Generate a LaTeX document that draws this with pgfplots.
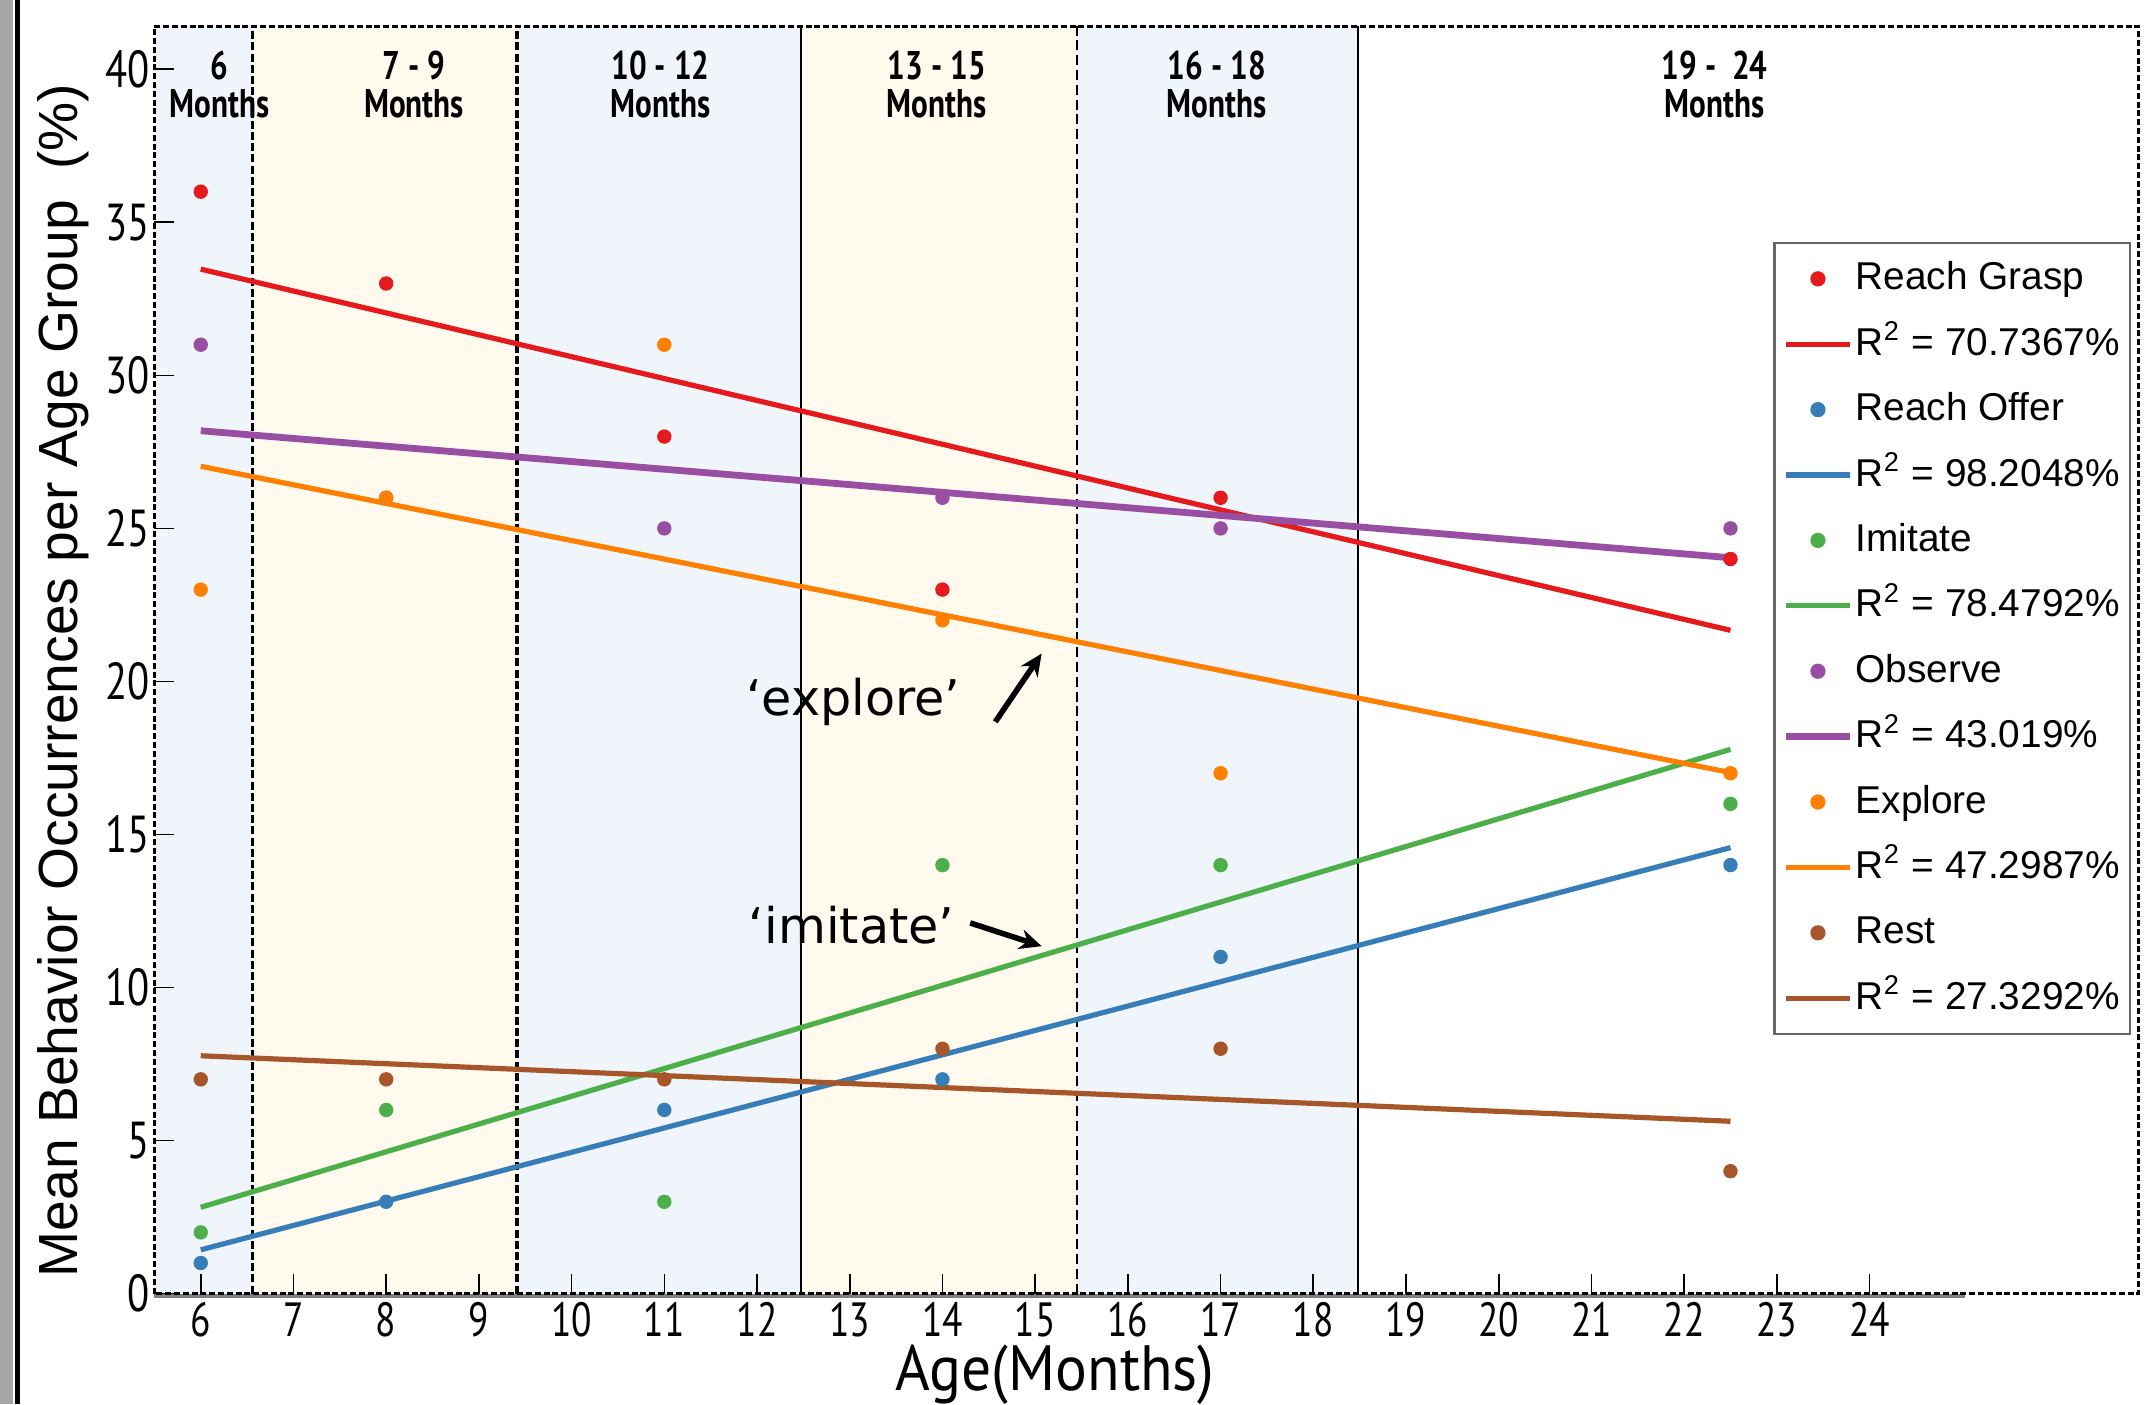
\documentclass[border=0pt]{standalone}
\usepackage{fontspec}
\setmainfont{Liberation Sans}
\newfontfamily\condfont{PT Sans}[FakeStretch=0.78]
\newfontfamily\labfont{PT Sans}[FakeStretch=0.93]
\newfontfamily\dejavu{DejaVu Sans}
\usepackage{pgfplots}
\pgfplotsset{compat=1.18}
\usetikzlibrary{arrows.meta}
\definecolor{cRG}{HTML}{E41A1C}
\definecolor{cRO}{HTML}{377EB8}
\definecolor{cIM}{HTML}{4DAF4A}
\definecolor{cOB}{HTML}{984EA3}
\definecolor{cEX}{HTML}{FF7F00}
\definecolor{cRE}{HTML}{A65628}
\definecolor{bgblue}{HTML}{EFF5FA}
\definecolor{bgyel}{HTML}{FFF9EE}
\begin{document}
\begin{tikzpicture}
\path[use as bounding box] (-38.6pt,-27.7pt) rectangle (497.4pt,323.4pt);
\fill[black!35] (-38.6pt,-27.7pt) rectangle (-35.3pt,323.4pt);
\fill[black] (-34.8pt,-27.7pt) rectangle (-33.6pt,323.4pt);
\begin{axis}[
 scale only axis, width=496pt, height=316.8pt,
 xmin=5.5, xmax=26.9, ymin=0, ymax=41.4,
 axis on top,
 axis line style={draw=none},
 xtick={6,...,24}, ytick={0,5,...,40},
 xtick pos=left, ytick pos=left,
 tick align=inside,
 major tick length=5pt,
 tick style={black, line width=0.4pt},
 /pgf/number format/assume math mode=true,
 xticklabel style={font=\condfont\fontsize{12}{12}\selectfont, inner sep=2pt},
 yticklabel style={font=\condfont\fontsize{13}{13}\selectfont, inner sep=1pt},
 clip=false,
 legend image code/.code={\draw[mark repeat=2,mark phase=2,#1] plot coordinates {(0pt,0pt)(8pt,0pt)(16pt,0pt)};},
 legend style={at={(axis description cs:0.816,0.830)}, anchor=north west,
   draw=black!60, line width=0.6pt, fill=white,
   font=\fontsize{9.7}{12}\selectfont, inner xsep=2pt, inner ysep=3.6pt, row sep=5.65pt,
   nodes={inner sep=0.6pt, text height=7.5pt, text depth=2pt}},
 legend cell align=left,
]
% background bands
\fill[bgblue] (axis cs:5.5,0) rectangle (axis cs:6.56,41.4);
\fill[bgyel] (axis cs:6.56,0) rectangle (axis cs:9.41,41.4);
\fill[bgblue] (axis cs:9.41,0) rectangle (axis cs:12.47,41.4);
\fill[bgyel] (axis cs:12.47,0) rectangle (axis cs:15.45,41.4);
\fill[bgblue] (axis cs:15.45,0) rectangle (axis cs:18.48,41.4);
\draw[black, line width=0.9pt, dash pattern=on 2pt off 0.8pt] (axis cs:6.56,0) -- (axis cs:6.56,41.4);
\draw[black, line width=0.9pt, dash pattern=on 2pt off 0.8pt] (axis cs:9.41,0) -- (axis cs:9.41,41.4);
\draw[black, line width=0.5pt] (axis cs:12.47,0) -- (axis cs:12.47,41.4);
\draw[black, line width=0.5pt, dash pattern=on 2.5pt off 1.2pt] (axis cs:15.45,0) -- (axis cs:15.45,41.4);
\draw[black, line width=0.5pt] (axis cs:18.48,0) -- (axis cs:18.48,41.4);
\draw[black!50, line width=1pt] ([yshift=-0.6pt]axis cs:5.5,0) -- ([yshift=-0.6pt]axis cs:25.03,0);
\draw[black, line width=0.6pt, dash pattern=on 1.5pt off 0.7pt] (axis cs:5.5,0) rectangle (axis cs:26.9,41.4);
% band labels
\begin{scope}[every node/.style={font=\condfont\bfseries\fontsize{10}{9.6}\selectfont, align=center, anchor=center}]
\node at (axis cs:6.2,39.5) {6\\Months};
\node at (axis cs:8.3,39.5) {7 - 9\\Months};
\node at (axis cs:10.96,39.5) {10 - 12\\Months};
\node at (axis cs:13.94,39.5) {13 - 15\\Months};
\node at (axis cs:16.96,39.5) {16 - 18\\Months};
\node at (axis cs:22.33,39.5) {19 -\ \ 24\\Months};
\end{scope}
% data
\addplot[only marks, mark=*, mark size=1.6pt, color=cRG] coordinates {(6,36)(8,33)(11,28)(14,23)(17,26)(22.5,24)};
\addlegendentry{Reach Grasp}
\addplot[cRG, line width=1.3pt] coordinates {(6,33.47)(22.5,21.67)};
\addlegendentry{R\textsuperscript{2} = 70.7367\%}
\addplot[only marks, mark=*, mark size=1.6pt, color=cRO] coordinates {(6,1)(8,3)(11,6)(14,7)(17,11)(22.5,14)};
\addlegendentry{Reach Offer}
\addplot[cRO, line width=1.3pt] coordinates {(6,1.43)(22.5,14.57)};
\addlegendentry{R\textsuperscript{2} = 98.2048\%}
\addplot[only marks, mark=*, mark size=1.6pt, color=cIM] coordinates {(6,2)(8,6)(11,3)(14,14)(17,14)(22.5,16)};
\addlegendentry{Imitate}
\addplot[cIM, line width=1.3pt] coordinates {(6,2.82)(22.5,17.78)};
\addlegendentry{R\textsuperscript{2} = 78.4792\%}
\addplot[only marks, mark=*, mark size=1.6pt, color=cOB] coordinates {(6,31)(8,26)(11,25)(14,26)(17,25)(22.5,25)};
\addlegendentry{Observe}
\addplot[cOB, line width=1.7pt] coordinates {(6,28.19)(22.5,24.04)};
\addlegendentry{R\textsuperscript{2} = 43.019\%}
\addplot[only marks, mark=*, mark size=1.6pt, color=cEX] coordinates {(6,23)(8,26)(11,31)(14,22)(17,17)(22.5,17)};
\addlegendentry{Explore}
\addplot[cEX, line width=1.3pt] coordinates {(6,27.03)(22.5,17.02)};
\addlegendentry{R\textsuperscript{2} = 47.2987\%}
\addplot[only marks, mark=*, mark size=1.6pt, color=cRE] coordinates {(6,7)(8,7)(11,7)(14,8)(17,8)(22.5,4)};
\addlegendentry{Rest}
\addplot[cRE, line width=1.3pt] coordinates {(6,7.77)(22.5,5.63)};
\addlegendentry{R\textsuperscript{2} = 27.3292\%}
% annotations
\node[font=\dejavu\fontsize{12.3}{12}\selectfont, anchor=base] at (axis cs:13.04,18.90) {‘explore’};
\node[font=\dejavu\fontsize{12.3}{12}\selectfont, anchor=base] at (axis cs:13.02,11.44) {‘imitate’};
\draw[black, line width=1.4pt, -{Stealth[length=5.5pt,width=5pt]}] (axis cs:14.57,18.68) -- (axis cs:15.07,20.91);
\draw[black, line width=1.4pt, -{Stealth[length=5.5pt,width=5pt]}] (axis cs:14.30,12.11) -- (axis cs:15.07,11.35);
% axis labels
\node[rotate=90, font=\fontsize{13.8}{14}\selectfont] at ([xshift=-22.9pt]axis description cs:0,0.484) {Mean Behavior Occurrences per Age Group~~(\%)};
\node[font=\labfont\fontsize{16}{16}\selectfont] at ([yshift=-20.2pt]axis description cs:0.454,0) {Age(Months)};
\end{axis}
\end{tikzpicture}
\end{document}
